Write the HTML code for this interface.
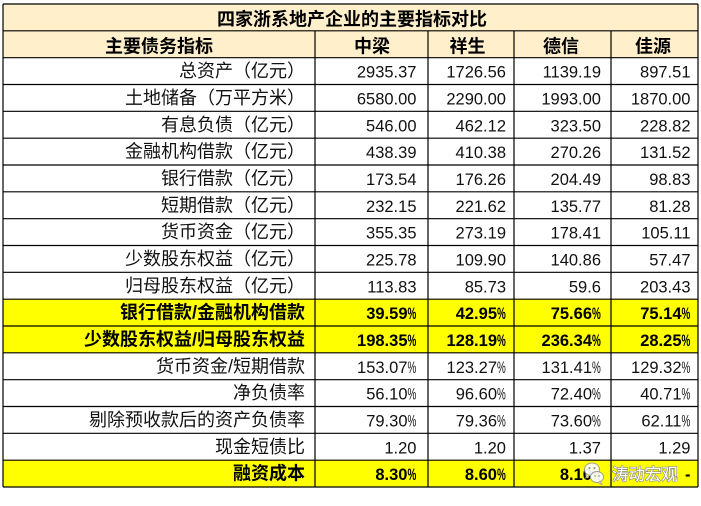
<!DOCTYPE html>
<html><head><meta charset="utf-8"><style>
html,body{margin:0;padding:0;background:#fff;width:701px;height:506px;overflow:hidden}
svg{display:block}
.c{font-family:"Liberation Sans","Noto Sans CJK SC",sans-serif;font-size:18px;fill:#111}
.l{font-family:"Liberation Sans","Noto Sans CJK SC",sans-serif;font-size:18px;fill:#111;text-anchor:end}
.n{font-family:"Liberation Sans",sans-serif;font-size:16.5px;fill:#111;text-anchor:end}
.p{font-family:"Liberation Sans",sans-serif;font-size:16.5px;fill:#111}
.b{font-weight:bold;fill:#000}
.h{font-family:"Liberation Sans","Noto Sans CJK SC",sans-serif;font-size:18px;font-weight:bold;fill:#000;text-anchor:middle}
</style></head><body>
<svg width="701" height="506" viewBox="0 0 701 506" xmlns="http://www.w3.org/2000/svg">
<rect x="0" y="0" width="701" height="506" fill="#fff"/>
<rect x="3" y="4" width="695" height="53.7" fill="#FFF0CB"/>
<rect x="3" y="299.2" width="695" height="53.6" fill="#FFFF00"/>
<rect x="3" y="460.2" width="695" height="26.8" fill="#FFFF00"/>

<g stroke="#000" stroke-width="1.2">
<line x1="3" y1="4" x2="698" y2="4"/>
<line x1="3" y1="30.8" x2="698" y2="30.8"/>
<line x1="3" y1="57.7" x2="698" y2="57.7"/>
<line x1="3" y1="84.5" x2="698" y2="84.5"/>
<line x1="3" y1="111.3" x2="698" y2="111.3"/>
<line x1="3" y1="138.2" x2="698" y2="138.2"/>
<line x1="3" y1="165" x2="698" y2="165"/>
<line x1="3" y1="191.8" x2="698" y2="191.8"/>
<line x1="3" y1="218.7" x2="698" y2="218.7"/>
<line x1="3" y1="245.5" x2="698" y2="245.5"/>
<line x1="3" y1="272.3" x2="698" y2="272.3"/>
<line x1="3" y1="299.2" x2="698" y2="299.2"/>
<line x1="3" y1="326" x2="698" y2="326"/>
<line x1="3" y1="352.8" x2="698" y2="352.8"/>
<line x1="3" y1="379.7" x2="698" y2="379.7"/>
<line x1="3" y1="406.5" x2="698" y2="406.5"/>
<line x1="3" y1="433.3" x2="698" y2="433.3"/>
<line x1="3" y1="460.2" x2="698" y2="460.2"/>
<line x1="3" y1="487" x2="698" y2="487"/>
<line x1="3" y1="4" x2="3" y2="487"/>
<line x1="698" y1="4" x2="698" y2="487"/>
<line x1="315" y1="30.8" x2="315" y2="487"/>
<line x1="428" y1="30.8" x2="428" y2="487"/>
<line x1="514" y1="30.8" x2="514" y2="487"/>
<line x1="611" y1="30.8" x2="611" y2="487"/>
</g>

<text class="h" x="352" y="25.5">四家浙系地产企业的主要指标对比</text>
<text class="h" x="159" y="52.3">主要债务指标</text>
<text class="h" x="372" y="52.3">中梁</text>
<text class="h" x="467.5" y="52.3">祥生</text>
<text class="h" x="561" y="52.3">德信</text>
<text class="h" x="653" y="52.3">佳源</text>

<!-- labels -->
<text class="l" x="305" y="77.2">总资产（亿元）</text>
<text class="l" x="305" y="104">土地储备（万平方米）</text>
<text class="l" x="305" y="130.8">有息负债（亿元）</text>
<text class="l" x="305" y="157.7">金融机构借款（亿元）</text>
<text class="l" x="305" y="184.5">银行借款（亿元）</text>
<text class="l" x="305" y="211.3">短期借款（亿元）</text>
<text class="l" x="305" y="238.2">货币资金（亿元）</text>
<text class="l" x="305" y="265">少数股东权益（亿元）</text>
<text class="l" x="305" y="291.8">归母股东权益（亿元）</text>
<text class="l b" x="305" y="318.7">银行借款/金融机构借款</text>
<text class="l b" x="305" y="345.5">少数股东权益/归母股东权益</text>
<text class="l" x="305" y="372.3">货币资金/短期借款</text>
<text class="l" x="305" y="399.2">净负债率</text>
<text class="l" x="305" y="426">剔除预收款后的资产负债率</text>
<text class="l" x="305" y="452.8">现金短债比</text>
<text class="l b" x="305" y="479.7">融资成本</text>

<!-- plain numbers -->
<text class="n" x="416.5" y="77.7">2935.37</text><text class="n" x="506" y="77.7">1726.56</text><text class="n" x="601" y="77.7">1139.19</text><text class="n" x="690.5" y="77.7">897.51</text>
<text class="n" x="416.5" y="104.5">6580.00</text><text class="n" x="506" y="104.5">2290.00</text><text class="n" x="601" y="104.5">1993.00</text><text class="n" x="690.5" y="104.5">1870.00</text>
<text class="n" x="416.5" y="131.3">546.00</text><text class="n" x="506" y="131.3">462.12</text><text class="n" x="601" y="131.3">323.50</text><text class="n" x="690.5" y="131.3">228.82</text>
<text class="n" x="416.5" y="158.2">438.39</text><text class="n" x="506" y="158.2">410.38</text><text class="n" x="601" y="158.2">270.26</text><text class="n" x="690.5" y="158.2">131.52</text>
<text class="n" x="416.5" y="185">173.54</text><text class="n" x="506" y="185">176.26</text><text class="n" x="601" y="185">204.49</text><text class="n" x="690.5" y="185">98.83</text>
<text class="n" x="416.5" y="211.8">232.15</text><text class="n" x="506" y="211.8">221.62</text><text class="n" x="601" y="211.8">135.77</text><text class="n" x="690.5" y="211.8">81.28</text>
<text class="n" x="416.5" y="238.7">355.35</text><text class="n" x="506" y="238.7">273.19</text><text class="n" x="601" y="238.7">178.41</text><text class="n" x="690.5" y="238.7">105.11</text>
<text class="n" x="416.5" y="265.5">225.78</text><text class="n" x="506" y="265.5">109.90</text><text class="n" x="601" y="265.5">140.86</text><text class="n" x="690.5" y="265.5">57.47</text>
<text class="n" x="416.5" y="292.3">113.83</text><text class="n" x="506" y="292.3">85.73</text><text class="n" x="601" y="292.3">59.6</text><text class="n" x="690.5" y="292.3">203.43</text>
<text class="n" x="416.5" y="453.3">1.20</text><text class="n" x="506" y="453.3">1.20</text><text class="n" x="601" y="453.3">1.37</text><text class="n" x="690.5" y="453.3">1.29</text>

<!-- percentages row 11 (bold) -->
<text class="n b" x="407.5" y="319.2">39.59</text><text class="p b" transform="translate(407.5,319.2) scale(0.6,1)">%</text>
<text class="n b" x="497" y="319.2">42.95</text><text class="p b" transform="translate(497,319.2) scale(0.6,1)">%</text>
<text class="n b" x="592" y="319.2">75.66</text><text class="p b" transform="translate(592,319.2) scale(0.6,1)">%</text>
<text class="n b" x="681.5" y="319.2">75.14</text><text class="p b" transform="translate(681.5,319.2) scale(0.6,1)">%</text>
<!-- row 12 -->
<text class="n b" x="407.5" y="346">198.35</text><text class="p b" transform="translate(407.5,346) scale(0.6,1)">%</text>
<text class="n b" x="497" y="346">128.19</text><text class="p b" transform="translate(497,346) scale(0.6,1)">%</text>
<text class="n b" x="592" y="346">236.34</text><text class="p b" transform="translate(592,346) scale(0.6,1)">%</text>
<text class="n b" x="681.5" y="346">28.25</text><text class="p b" transform="translate(681.5,346) scale(0.6,1)">%</text>
<!-- row 13 -->
<text class="n" x="407.5" y="372.8">153.07</text><text class="p" transform="translate(407.5,372.8) scale(0.6,1)">%</text>
<text class="n" x="497" y="372.8">123.27</text><text class="p" transform="translate(497,372.8) scale(0.6,1)">%</text>
<text class="n" x="592" y="372.8">131.41</text><text class="p" transform="translate(592,372.8) scale(0.6,1)">%</text>
<text class="n" x="681.5" y="372.8">129.32</text><text class="p" transform="translate(681.5,372.8) scale(0.6,1)">%</text>
<!-- row 14 -->
<text class="n" x="407.5" y="399.7">56.10</text><text class="p" transform="translate(407.5,399.7) scale(0.6,1)">%</text>
<text class="n" x="497" y="399.7">96.60</text><text class="p" transform="translate(497,399.7) scale(0.6,1)">%</text>
<text class="n" x="592" y="399.7">72.40</text><text class="p" transform="translate(592,399.7) scale(0.6,1)">%</text>
<text class="n" x="681.5" y="399.7">40.71</text><text class="p" transform="translate(681.5,399.7) scale(0.6,1)">%</text>
<!-- row 15 -->
<text class="n" x="407.5" y="426.5">79.30</text><text class="p" transform="translate(407.5,426.5) scale(0.6,1)">%</text>
<text class="n" x="497" y="426.5">79.36</text><text class="p" transform="translate(497,426.5) scale(0.6,1)">%</text>
<text class="n" x="592" y="426.5">73.60</text><text class="p" transform="translate(592,426.5) scale(0.6,1)">%</text>
<text class="n" x="681.5" y="426.5">62.11</text><text class="p" transform="translate(681.5,426.5) scale(0.6,1)">%</text>
<!-- row 17 -->
<text class="n b" x="407.5" y="480.2">8.30</text><text class="p b" transform="translate(407.5,480.2) scale(0.6,1)">%</text>
<text class="n b" x="497" y="480.2">8.60</text><text class="p b" transform="translate(497,480.2) scale(0.6,1)">%</text>
<text class="n b" x="592" y="480.2">8.10</text><text class="p b" transform="translate(592,480.2) scale(0.6,1)">%</text>
<text class="n b" x="690.5" y="480.2">-</text>

<!-- watermark -->
<g opacity="0.92">
<ellipse cx="592" cy="469.5" rx="7.5" ry="6.5" fill="#fff" stroke="#9a9a9a" stroke-width="1"/>
<path d="M587 474 l-1.5 4 l4 -2.5 z" fill="#fff" stroke="#9a9a9a" stroke-width="0.8"/>
<ellipse cx="597" cy="477" rx="6.5" ry="5.5" fill="#fff" stroke="#9a9a9a" stroke-width="1"/>
<path d="M600 481 l2 3.5 l-4 -2 z" fill="#fff" stroke="#9a9a9a" stroke-width="0.8"/>
<circle cx="589.5" cy="468" r="1" fill="#888"/><circle cx="594.5" cy="468" r="1" fill="#888"/>
<circle cx="595" cy="476" r="0.8" fill="#888"/><circle cx="599" cy="476" r="0.8" fill="#888"/>
</g>
<text x="612" y="480" style="font-family:'Liberation Sans','Noto Sans CJK SC',sans-serif;font-size:16.5px;fill:#fff;stroke:#8a8a8a;stroke-width:1.2px;paint-order:stroke">涛动宏观</text>
</svg>
</body></html>
